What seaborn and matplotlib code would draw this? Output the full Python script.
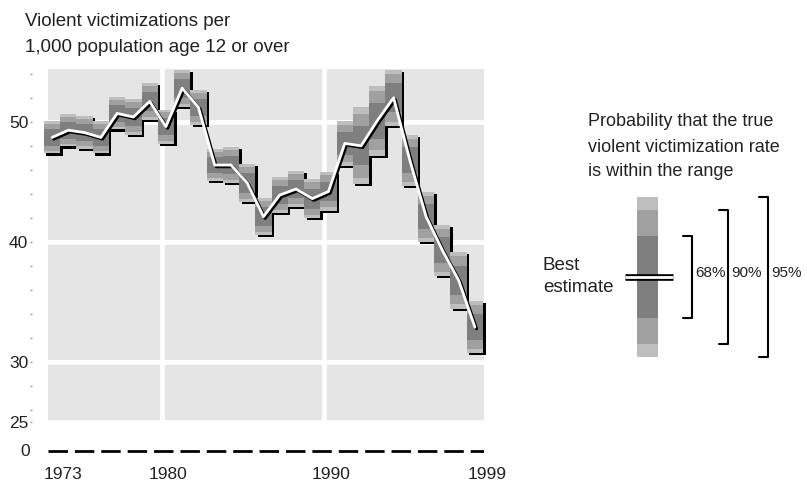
import matplotlib
matplotlib.use('Agg')
import matplotlib.pyplot as plt
import matplotlib.patheffects as pe
import matplotlib.transforms as mtransforms
import pandas as pd
import seaborn as sns

# Violent victimization rate per 1,000 persons age 12+, with standard errors
years = list(range(1973, 2000))
estimate = [48.7, 49.3, 49.1, 48.7, 50.7, 50.4, 51.7, 49.6, 52.8, 51.2,
            46.4, 46.4, 44.9, 42.1, 43.9, 44.4, 43.6, 44.2, 48.2, 48.0,
            50.1, 52.0, 46.8, 42.1, 39.3, 36.8, 32.9]
std_err = [0.68, 0.69, 0.69, 0.68, 0.68, 0.78, 0.79, 0.72, 0.78, 0.74,
           0.67, 0.77, 0.80, 0.78, 0.76, 0.76, 0.83, 0.81, 0.95, 1.63,
           1.49, 1.20, 1.09, 1.06, 1.08, 1.22, 1.11]

z_levels = [1.96, 1.645, 1.0]
level_labels = ['95%', '90%', '68%']
band_colors = ['#bebebe', '#a0a0a0', '#7f7f7f']
tick_years = [1973, 1980, 1990, 1999]
tick_shift_px = [11, 2, 3, 12]
y_ticks = [25, 30, 40, 50]

W, H = 807, 480

sns.set_style('darkgrid', {'axes.facecolor': '#e5e5e5', 'grid.color': 'white'})
plt.rcParams['font.family'] = ['Liberation Sans', 'DejaVu Sans']

df = pd.DataFrame({'year': years, 'rate': estimate, 'se': std_err})

fig = plt.figure(figsize=(W / 100, H / 100), dpi=100)


def px_axes(x0, y0, x1, y1):
    return fig.add_axes([x0 / W, 1 - y1 / H, (x1 - x0) / W, (y1 - y0) / H])


# main panel
ax = px_axes(48, 69, 484, 423.5)
ax.set_xlim(1972.75, 1999.56)
ax.set_ylim(24.87, 54.4)

for _, row in df.iterrows():
    for i, (z, c) in enumerate(zip(z_levels, band_colors)):
        fx = [pe.SimplePatchShadow(offset=(1.8, -1.5), shadow_rgbFace='black', alpha=1),
              pe.Normal()] if i == 0 else []
        ax.bar(row.year, 2 * z * row.se, bottom=row.rate - z * row.se, width=1,
               color=c, linewidth=0, clip_on=False, zorder=2, path_effects=fx)

sns.lineplot(data=df, x='year', y='rate', color='white', lw=2, ax=ax, zorder=4,
             path_effects=[pe.SimpleLineShadow(offset=(1.2, -1.2), shadow_color='black',
                                               alpha=1, linewidth=2.2),
                           pe.Normal()])
ax.set_xlabel('')
ax.set_ylabel('')

ax.set_xticks([])
ax.set_xticks([1979.75, 1989.75], minor=True)
ax.set_yticks(y_ticks)
ax.set_yticks(range(26, 55, 2), minor=True)
ax.grid(False)
ax.grid(axis='x', which='minor', color='white', lw=3.4)
ax.grid(axis='y', which='major', color='white', lw=3.4)
ax.get_ygridlines()[0].set_visible(False)
for s in ax.spines.values():
    s.set_visible(False)
ax.spines['left'].set_position(('outward', 11.5))
ax.tick_params(axis='x', which='both', length=0, labelbottom=False)
ax.tick_params(axis='y', which='both', left=True, length=1.2, width=1, color='#999999',
               labelsize=12.5, pad=1.5, labelcolor='#222222')

# zero line below the axis break
ax0 = px_axes(48, 440, 484, 461)
ax0.set_xlim(ax.get_xlim())
ax0.set_ylim(-1, 1)
ax0.set_facecolor('none')
ax0.axhline(0, color='black', lw=2, ls=(0, (7, 2.5)))
ax0.grid(False)
for s in ax0.spines.values():
    s.set_visible(False)
ax0.spines['left'].set_position(('outward', 11.5))
ax0.set_yticks([0])
ax0.set_xticks(tick_years)
ax0.tick_params(axis='y', left=True, length=0, labelsize=12.5, pad=1.5, labelcolor='#222222')
ax0.tick_params(axis='x', bottom=True, length=0, labelsize=12.5, pad=4, labelcolor='#222222')
for lab, dx in zip(ax0.get_xticklabels(), tick_shift_px):
    lab.set_transform(lab.get_transform() +
                      mtransforms.ScaledTranslation(dx / 100, 0, fig.dpi_scale_trans))

# overlay in pixel coordinates for titles and the key
ov = fig.add_axes([0, 0, 1, 1])
ov.set_xlim(0, W)
ov.set_ylim(H, 0)
ov.axis('off')

ov.text(25, 21, 'Violent victimizations per', fontsize=13.5, va='center', color='#222222')
ov.text(25, 47, '1,000 population age 12 or over', fontsize=13.5, va='center', color='#222222')

ov.text(588, 122, 'Probability that the true', fontsize=13, va='center', color='#222222')
ov.text(588, 148, 'violent victimization rate', fontsize=13, va='center', color='#222222')
ov.text(588, 172, 'is within the range', fontsize=13, va='center', color='#222222')

key_x, key_y, key_se = 647.5, 277, 41
for z, c in zip(z_levels, band_colors):
    ov.bar(key_x, 2 * z * key_se, bottom=key_y - z * key_se, width=21, color=c, linewidth=0)
ov.plot([625, 673], [key_y - 0.5, key_y - 0.5], color='black', lw=4.8, solid_capstyle='butt')
ov.plot([625, 673], [key_y - 0.5, key_y - 0.5], color='white', lw=2.0, solid_capstyle='butt')
ov.text(543, 265, 'Best', fontsize=13.5, va='center', color='#222222')
ov.text(543, 288, 'estimate', fontsize=13.5, va='center', color='#222222')

for bx, z, lab in zip([768, 728, 692], z_levels, level_labels):
    top, bot = key_y - z * key_se, key_y + z * key_se
    ov.plot([bx - 9, bx, bx, bx - 9], [top, top, bot, bot], color='black', lw=1.5)
    ov.text(bx + 3, key_y - 4, lab, fontsize=11, va='center', ha='left', color='#222222')

fig.savefig('out.png', dpi=100)
